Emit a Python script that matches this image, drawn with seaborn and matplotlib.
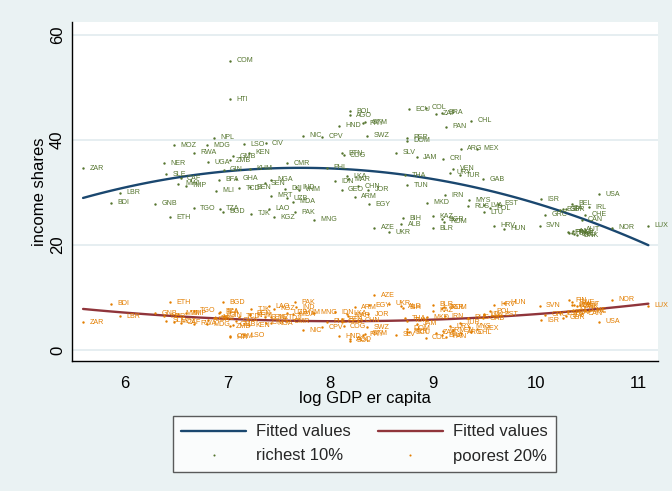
import numpy as np
import pandas as pd
import matplotlib
matplotlib.use("Agg")
import matplotlib.pyplot as plt
from matplotlib.lines import Line2D
import seaborn as sns

# Country codes
countries = [
    "ZAR", "LBR", "BDI", "GNB", "ETH", "NER", "SLE", "CAF", "MWI", "TMP",
    "MOZ", "RWA", "UGA", "MDG", "NPL", "GIN", "TGO", "TZA", "BGD", "MLI",
    "BFA", "GHA", "TCD", "BEN", "KHM", "GMB", "ZMB", "COM", "HTI", "LSO",
    "KEN", "TJK", "NGA", "SEN", "CIV", "LAO", "KGZ", "PAK", "MRT", "UZB",
    "MDA", "IND", "DJI", "VNM", "CMR", "MNG", "NIC", "CPV", "PHL", "IDN",
    "LKA", "MAR", "CHN", "GEO", "JOR", "ARM", "EGY", "AZE", "UKR", "BIH",
    "ALB", "BTN", "COG", "SWZ", "HND", "PRY", "GTM", "BOL", "AGO", "SLV",
    "JAM", "THA", "TUN", "PER", "DOM", "ECU", "COL", "ZAF", "BRA", "PAN",
    "CHL", "ARG", "MEX", "CRI", "VEN", "URY", "TUR", "GAB", "IRN", "MKD",
    "MYS", "RUS", "LVA", "EST", "POL", "LTU", "KAZ", "BGR", "ROM", "BLR",
    "HRV", "HUN", "SVN", "ISR", "GRC", "ESP", "ITA", "GBR", "BEL", "IRL",
    "CHE", "CAN", "FRA", "AUT", "FIN", "SWE", "DEU", "DNK", "NLD", "USA",
    "NOR", "LUX",
]

# log GDP per capita
log_gdp = [
    5.59, 5.95, 5.86, 6.29, 6.44, 6.38, 6.40, 6.54, 6.52, 6.59,
    6.48, 6.67, 6.81, 6.80, 6.87, 6.96, 6.67, 6.92, 6.95, 6.89,
    6.91, 7.08, 7.11, 7.22, 7.22, 7.05, 7.02, 7.02, 7.02, 7.16,
    7.21, 7.23, 7.42, 7.36, 7.37, 7.40, 7.45, 7.66, 7.42, 7.58,
    7.64, 7.67, 7.56, 7.69, 7.58, 7.84, 7.73, 7.92, 7.97, 8.05,
    8.16, 8.17, 8.27, 8.11, 8.37, 8.24, 8.38, 8.43, 8.57, 8.71,
    8.69, 8.11, 8.13, 8.36, 8.08, 8.32, 8.34, 8.19, 8.19, 8.64,
    8.84, 8.73, 8.75, 8.75, 8.75, 8.77, 8.93, 9.03, 9.09, 9.13,
    9.37, 9.27, 9.43, 9.10, 9.20, 9.17, 9.26, 9.49, 9.12, 8.94,
    9.35, 9.34, 9.50, 9.63, 9.56, 9.50, 9.00, 9.09, 9.11, 9.00,
    9.60, 9.69, 10.04, 10.05, 10.09, 10.24, 10.30, 10.27, 10.36, 10.52,
    10.48, 10.45, 10.32, 10.43, 10.33, 10.36, 10.38, 10.40, 10.37, 10.62,
    10.75, 11.10,
]

# Income share of the richest 10%
richest_10 = [
    34.6, 30.0, 28.1, 27.9, 25.3, 35.6, 33.5, 32.7, 31.7, 31.3,
    39.0, 37.6, 35.75, 39.0, 40.4, 34.3, 27.0, 26.9, 26.3, 30.3,
    32.4, 32.6, 30.8, 31.0, 34.5, 36.9, 36.2, 55.1, 47.75, 39.2,
    37.6, 26.0, 32.4, 31.75, 39.4, 26.9, 25.3, 26.2, 29.4, 28.95,
    28.2, 31.0, 30.7, 30.5, 35.6, 24.8, 40.8, 40.6, 34.7, 32.2,
    33.1, 32.5, 31.2, 30.5, 30.5, 29.2, 27.8, 23.3, 22.4, 25.1,
    24.0, 37.5, 37.1, 40.8, 42.7, 43.2, 43.4, 45.5, 44.7, 37.6,
    36.7, 33.3, 31.4, 40.4, 39.9, 45.9, 46.2, 45.0, 45.2, 42.5,
    43.7, 38.3, 38.3, 36.4, 34.5, 33.8, 33.3, 32.5, 29.5, 28.1,
    28.5, 27.4, 27.6, 27.9, 27.0, 26.2, 25.5, 24.95, 24.4, 23.2,
    23.7, 23.1, 23.7, 28.7, 25.8, 26.7, 26.9, 26.8, 27.9, 27.2,
    25.8, 24.8, 22.4, 22.9, 22.3, 22.2, 22.1, 21.9, 22.6, 29.7,
    23.3, 23.7,
]

# Income share of the poorest 20%
poorest_20 = [
    5.3, 6.4, 8.8, 7.0, 9.1, 6.4, 5.6, 5.2, 6.9, 7.0,
    5.4, 5.0, 5.8, 4.9, 6.0, 6.5, 7.5, 7.3, 9.1, 6.1,
    7.1, 5.6, 6.3, 6.9, 6.6, 4.8, 4.5, 2.6, 2.4, 2.8,
    4.7, 7.8, 5.1, 6.2, 5.2, 8.3, 7.9, 9.1, 6.2, 7.1,
    6.8, 8.1, 6.0, 7.1, 5.5, 7.1, 3.8, 4.3, 5.4, 7.2,
    6.9, 6.5, 5.6, 5.4, 6.8, 8.1, 8.5, 10.4, 8.8, 8.0,
    8.3, 5.9, 4.5, 4.3, 2.6, 2.9, 3.1, 1.8, 2.0, 2.9,
    5.0, 6.0, 5.6, 3.5, 4.0, 3.4, 2.3, 3.3, 2.8, 2.5,
    3.4, 3.3, 4.0, 3.7, 3.8, 4.5, 5.2, 6.0, 6.4, 6.2,
    4.4, 6.1, 6.6, 6.7, 7.4, 6.8, 7.5, 8.0, 8.1, 8.6,
    8.6, 9.0, 8.4, 5.7, 6.7, 7.0, 6.5, 6.1, 8.5, 7.4,
    7.6, 7.0, 7.2, 8.6, 9.5, 9.1, 8.5, 8.3, 7.6, 5.4,
    9.6, 8.4,
]

NAVY = "#1a476f"
MAROON = "#90353b"
GREEN = "#55752f"
ORANGE = "#e37e00"
OUTER_BG = "#eaf2f3"
GRID = "#e4edf0"

df = pd.DataFrame({
    "country": countries,
    "log_gdp": log_gdp,
    "richest": richest_10,
    "poorest": poorest_20,
})

sns.set_theme(style="white")
plt.rcParams["font.family"] = ["Liberation Sans", "DejaVu Sans"]

W, H = 672, 491
fig = plt.figure(figsize=(W / 100, H / 100), dpi=100, facecolor=OUTER_BG)
left, right, top, bottom = 72, 658, 22, 361
ax = fig.add_axes([left / W, 1 - bottom / H, (right - left) / W, (bottom - top) / H])
ax.set_facecolor("white")

for gy in [0, 20, 40, 60]:
    ax.axhline(gy, color=GRID, lw=1.3, zorder=0)

# Quadratic fits
sns.regplot(data=df, x="log_gdp", y="richest", order=2, scatter=False, ci=None,
            truncate=True, color=NAVY, line_kws=dict(lw=1.7, zorder=2), ax=ax)
sns.regplot(data=df, x="log_gdp", y="poorest", order=2, scatter=False, ci=None,
            truncate=True, color=MAROON, line_kws=dict(lw=1.7, zorder=2), ax=ax)

# Country points
sns.scatterplot(data=df, x="log_gdp", y="richest", color=GREEN, s=3, linewidth=0,
                ax=ax, zorder=3, legend=False)
sns.scatterplot(data=df, x="log_gdp", y="poorest", color=ORANGE, s=3, linewidth=0,
                ax=ax, zorder=3, legend=False)

for c, gx, r, p in zip(countries, log_gdp, richest_10, poorest_20):
    ax.annotate(c, (gx, r), xytext=(4.6, 0), textcoords="offset points",
                fontsize=5.1, color=GREEN, va="center", ha="left", zorder=4)
    ax.annotate(c, (gx, p), xytext=(4.6, 0), textcoords="offset points",
                fontsize=5.1, color=ORANGE, va="center", ha="left", zorder=4)

ax.set_xlim(5.482, 11.194)
ax.set_ylim(-2.1, 62.5)
ax.set_xticks([6, 7, 8, 9, 10, 11])
ax.set_yticks([0, 20, 40, 60])
ax.tick_params(axis="both", which="major", direction="out", length=5, width=1,
               color="black", labelsize=12, labelcolor="black")
ax.tick_params(axis="x", pad=6)
ax.tick_params(axis="y", pad=0)
for lab in ax.get_yticklabels():
    lab.set_rotation(90)
    lab.set_va("center")

for side in ["top", "right"]:
    ax.spines[side].set_visible(False)
for side in ["left", "bottom"]:
    ax.spines[side].set_color("black")
    ax.spines[side].set_linewidth(1)

ax.set_xlabel("log GDP er capita", fontsize=12, color="black", labelpad=0)
ax.set_ylabel("income shares", fontsize=12, color="black", labelpad=2)

handles = [
    Line2D([], [], color=NAVY, lw=1.7),
    Line2D([], [], marker="o", ls="none", color=GREEN, markersize=1.5, markeredgewidth=0),
    Line2D([], [], color=MAROON, lw=1.7),
    Line2D([], [], marker="o", ls="none", color=ORANGE, markersize=1.5, markeredgewidth=0),
]
labels = ["Fitted values", "richest 10%", "Fitted values", "poorest 20%"]
leg = fig.legend(handles, labels, ncol=2, loc="upper left",
                 bbox_to_anchor=(173 / W, 1 - 416 / H), borderaxespad=0,
                 frameon=True, fancybox=False, fontsize=12, handlelength=3.9,
                 handletextpad=0.6, columnspacing=1.6, labelspacing=0.55,
                 borderpad=0.5)
leg.get_frame().set_edgecolor("#333333")
leg.get_frame().set_linewidth(1)
leg.get_frame().set_facecolor("white")

fig.savefig("out.png", dpi=100, facecolor=OUTER_BG)
